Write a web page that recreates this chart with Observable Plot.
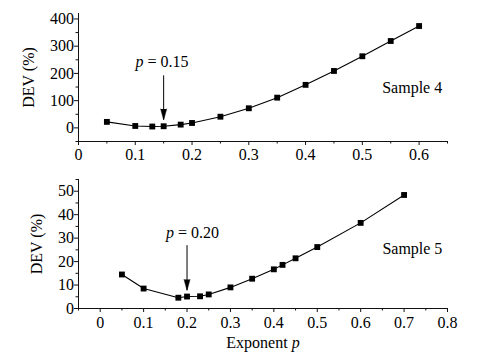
<!DOCTYPE html>
<html><head><meta charset="utf-8">
<script src="https://cdn.jsdelivr.net/npm/d3@7"></script>
<script src="https://cdn.jsdelivr.net/npm/@observablehq/plot@0.6"></script>
<style>
body{margin:0;background:#fff;}
#c{position:relative;width:495px;height:361px;overflow:hidden;}
#c>div{position:absolute;left:0;}
#c svg text{font-family:"Liberation Serif","DejaVu Serif",serif !important;}
</style>
</head><body>
<div id="c"><div id="topPanel" style="top:0"></div><div id="botPanel" style="top:165px"></div></div>
<script>
// Sample 4
const s4P   = [0.05, 0.10, 0.13, 0.15, 0.18, 0.20, 0.25, 0.30, 0.35, 0.40, 0.45, 0.50, 0.55, 0.60];
const s4Dev = [22, 7, 5, 6, 12, 18, 41, 72, 111, 158, 209, 263, 319, 374];
// Sample 5
const s5P   = [0.05, 0.10, 0.18, 0.20, 0.23, 0.25, 0.30, 0.35, 0.40, 0.42, 0.45, 0.50, 0.60, 0.70];
const s5Dev = [14.5, 8.5, 4.6, 5.1, 5.2, 6.0, 9.0, 12.7, 16.7, 18.6, 21.4, 26.2, 36.5, 48.4];

// ticks
const topXMajor = [0, 0.1, 0.2, 0.3, 0.4, 0.5, 0.6];
const topXMinor = [0.05, 0.15, 0.25, 0.35, 0.45, 0.55, 0.65];
const topYMajor = [0, 100, 200, 300, 400];
const topYMinor = [-50, 50, 150, 250, 350];
const botXMajor = [0, 0.1, 0.2, 0.3, 0.4, 0.5, 0.6, 0.7, 0.8];
const botXMinor = [-0.05, 0.05, 0.15, 0.25, 0.35, 0.45, 0.55, 0.65, 0.75];
const botYMajor = [0, 10, 20, 30, 40, 50];
const botYMinor = [5, 15, 25, 35, 45, 55];

// annotations (data space)
const topNote = {text: "p = 0.15", tx: 0.147, ty: 242, x: 0.15, y1: 191, y2: 29};
const botNote = {text: "p = 0.20", tx: 0.2126, ty: 32.3, x: 0.20, y1: 26.8, y2: 7.7};

const fmt = d => d === 0 ? "0" : d3.format(".1f")(d);
const FONT = "Liberation Serif";

function panel(o) {
  const data = o.p.map((p, i) => ({p, dev: o.dev[i]}));
  const T = {fontSize: 16, fontFamily: FONT};
  const marks = [
    Plot.ruleY([o.yDomain[0]], {stroke: "#111"}),
    Plot.ruleX([o.xDomain[0]], {stroke: "#111"}),
    Plot.axisX(o.xMajor, {tickSize: 4, tickPadding: o.xPad, tickFormat: fmt, label: null, stroke: "#111", ...T}),
    Plot.axisX(o.xMinor, {tickSize: 2.5, tickFormat: () => "", label: null, stroke: "#111"}),
    Plot.axisY(o.yMajor, {tickSize: 4, tickPadding: 0.5, label: null, stroke: "#111", ...T}),
    Plot.axisY(o.yMinor, {tickSize: 2.5, tickFormat: () => "", label: null, stroke: "#111"}),
    Plot.line(data, {x: "p", y: "dev", stroke: "black", strokeWidth: 1.1}),
    Plot.dot(data, {x: "p", y: "dev", symbol: "square", r: 3.3, fill: "black", stroke: "none"}),
    Plot.ruleX([o.note], {x: "x", y1: "y1", y2: "y2", stroke: "black", strokeWidth: 1}),
    Plot.vector([o.note], {x: "x", y: "y2", length: 11, r: 3, shape: "spike", rotate: 180, anchor: "end", fill: "black", stroke: "black", strokeWidth: 0.5}),
    Plot.text([o.note], {x: "tx", y: "ty", text: "text", ...T}),
    Plot.text([o.sample.text], {x: o.sample.x, y: o.sample.y, textAnchor: "start", ...T}),
    Plot.text(["DEV (%)"], {frameAnchor: "left", rotate: -90, dx: o.ylabelDx, textAnchor: "middle", lineAnchor: "middle", ...T})
  ];
  if (o.xlabel) marks.push(Plot.text([o.xlabel], {frameAnchor: "bottom", dy: 34, textAnchor: "middle", lineAnchor: "middle", ...T}));
  return Plot.plot({
    width: 495, height: o.height,
    marginLeft: 78, marginRight: 48, marginTop: o.marginTop, marginBottom: o.marginBottom,
    style: {fontFamily: FONT, fontSize: "16px", background: "white", color: "black"},
    x: {domain: o.xDomain},
    y: {domain: o.yDomain},
    marks
  });
}

const topChart = panel({
  p: s4P, dev: s4Dev, xDomain: [0, 0.65], yDomain: [-50, 420],
  xMajor: topXMajor, xMinor: topXMinor, yMajor: topYMajor, yMinor: topYMinor,
  height: 165, marginTop: 13, marginBottom: 24, xPad: 3,
  note: topNote, sample: {text: "Sample 4", x: 0.535, y: 147}, ylabelDx: -49.5
});
const botChart = panel({
  p: s5P, dev: s5Dev, xDomain: [-0.05, 0.8], yDomain: [0, 55],
  xMajor: botXMajor, xMinor: botXMinor, yMajor: botYMajor, yMinor: botYMinor,
  height: 196, marginTop: 14, marginBottom: 53, xPad: 4.5,
  note: botNote, sample: {text: "Sample 5", x: 0.65, y: 25.5}, ylabelDx: -42,
  xlabel: "Exponent p"
});
document.getElementById("topPanel").append(topChart);
document.getElementById("botPanel").append(botChart);

// italicize the variable p in annotation texts
d3.selectAll("#c text").each(function () {
  const t = this.textContent;
  if (/^p = /.test(t)) {
    this.textContent = "";
    d3.select(this).append("tspan").attr("font-style", "italic").text("p");
    d3.select(this).append("tspan").text(t.slice(1));
  } else if (t === "Exponent p") {
    this.textContent = "";
    d3.select(this).append("tspan").text("Exponent ");
    d3.select(this).append("tspan").attr("font-style", "italic").text("p");
  }
});
</script>
</body></html>
